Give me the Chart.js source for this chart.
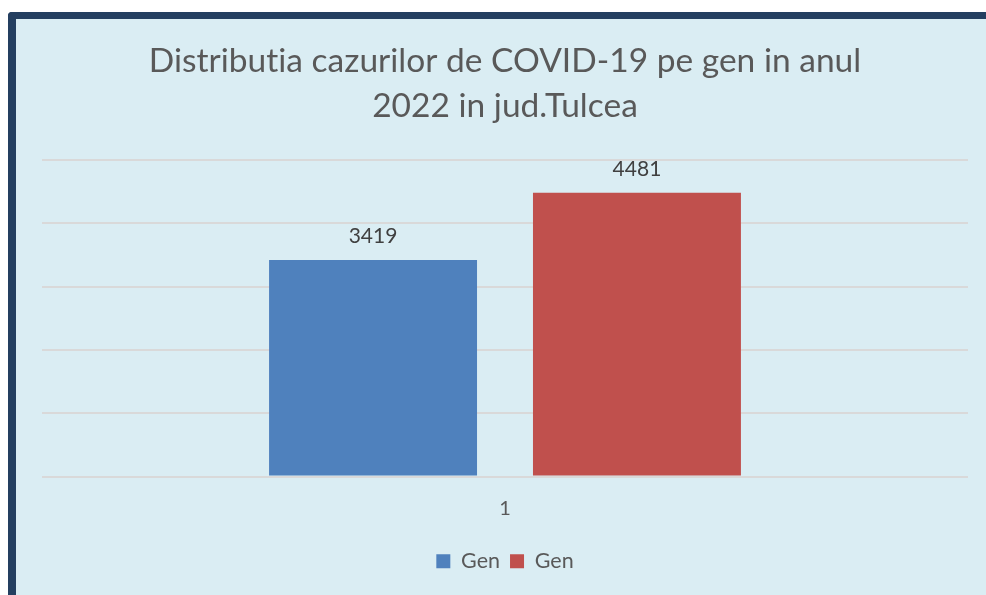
<!DOCTYPE html>
<html>
<head>
<meta charset="utf-8">
<style>
    html, body { margin: 0; padding: 0; background: #ffffff; overflow: hidden; }
    /* chenar inchis la stanga si sus, ca in imagine */
    #frame {
        position: absolute; left: 8px; top: 12px;
        width: 1000px; height: 600px;
        background: #DAEDF3;
        border-left: 8px solid #243F60;
        border-top: 7px solid #243F60;
        border-top-left-radius: 4px;
    }
    #wrap { position: absolute; left: 0; top: 0; width: 970px; height: 576px; }
</style>
</head>
<body>
<div id="frame">
    <div id="wrap"><canvas id="chart_id"></canvas></div>
</div>
<script src="https://cdn.jsdelivr.net/npm/chart.js"></script>
<script>
    // date
    const categorii = ['1'];
    const serieBarbati = [3419];
    const serieFemei = [4481];
    const numeSerii = ['Gen', 'Gen'];
    const titlu = ['Distributia cazurilor de COVID-19 pe gen in anul', '2022 in jud.Tulcea'];

    const FONT = "Lato, 'Liberation Sans', sans-serif";

    // fara ligaturi (ti) la Lato
    const faraLigaturi = {
        id: 'faraLigaturi',
        beforeDraw(chart) { chart.ctx.letterSpacing = '0.01px'; }
    };

    // etichete cu valorile deasupra barelor
    const eticheteValori = {
        id: 'eticheteValori',
        afterDatasetsDraw(chart) {
            const ctx = chart.ctx;
            ctx.save();
            ctx.font = '21px ' + FONT;
            ctx.fillStyle = '#404040';
            ctx.textAlign = 'center';
            ctx.textBaseline = 'middle';
            chart.data.datasets.forEach((ds, i) => {
                chart.getDatasetMeta(i).data.forEach((bar, j) => {
                    ctx.fillText(ds.data[j], bar.x, bar.y - 24);
                });
            });
            ctx.restore();
        }
    };

    new Chart(document.getElementById('chart_id'), {
        type: 'bar',
        data: {
            labels: categorii,
            datasets: [
                { label: numeSerii[0], data: serieBarbati, backgroundColor: '#4F81BD' },
                { label: numeSerii[1], data: serieFemei, backgroundColor: '#C0504D' }
            ]
        },
        options: {
            responsive: true,
            maintainAspectRatio: false,
            animation: false,
            categoryPercentage: 0.57,
            barPercentage: 0.788,
            layout: { padding: { left: 26, right: 18, top: 0, bottom: 13 } },
            plugins: {
                title: {
                    display: true,
                    text: titlu,
                    color: '#595959',
                    font: { family: FONT, size: 33.5, weight: 'normal', lineHeight: 1.343 },
                    padding: { top: 20, bottom: 31 }
                },
                legend: {
                    position: 'bottom',
                    labels: {
                        color: '#595959',
                        font: { family: FONT, size: 21.5 },
                        boxWidth: 14,
                        boxHeight: 14,
                        padding: 10
                    }
                },
                tooltip: { enabled: false }
            },
            scales: {
                x: {
                    grid: { display: false, drawTicks: false },
                    border: { display: false },
                    ticks: { color: '#595959', font: { family: FONT, size: 20 }, padding: 20 }
                },
                y: {
                    min: 0,
                    max: 5000,
                    ticks: { display: false, stepSize: 1000 },
                    grid: { color: '#D9D9D9', lineWidth: 2, drawTicks: false },
                    border: { display: false }
                }
            }
        },
        plugins: [faraLigaturi, eticheteValori]
    });
</script>
</body>
</html>
